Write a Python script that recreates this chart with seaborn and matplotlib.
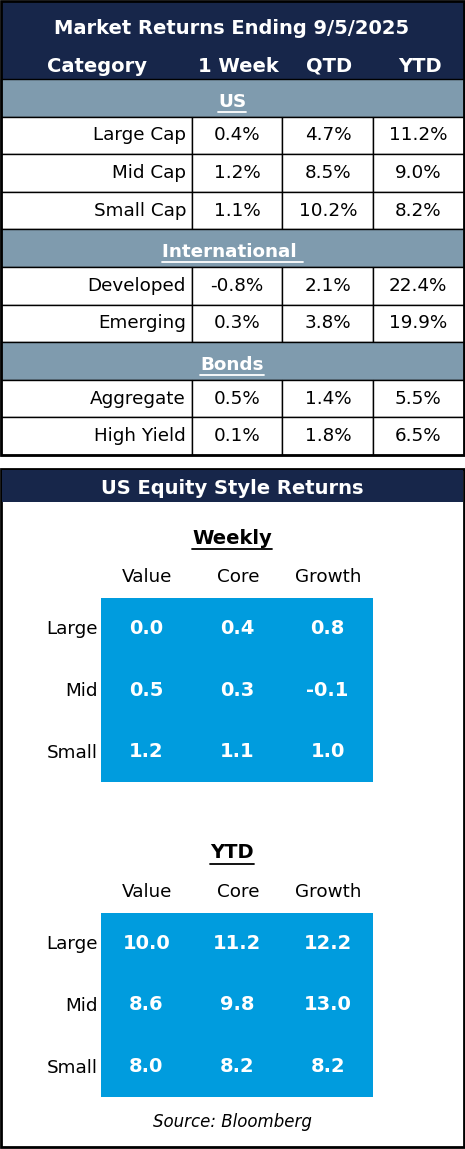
import matplotlib
matplotlib.use("Agg")
import matplotlib.pyplot as plt
from matplotlib.colors import ListedColormap
from matplotlib.patches import Rectangle
import seaborn as sns
import numpy as np

title = "Market Returns Ending 9/5/2025"
col_headers = ["Category", "1 Week", "QTD", "YTD"]
sections = ["US", "International ", "Bonds"]
section_rows = [["Large Cap", "Mid Cap", "Small Cap"], ["Developed", "Emerging"], ["Aggregate", "High Yield"]]
week_vals = [[0.4, 1.2, 1.1], [-0.8, 0.3], [0.5, 0.1]]
qtd_vals = [[4.7, 8.5, 10.2], [2.1, 3.8], [1.4, 1.8]]
ytd_vals = [[11.2, 9.0, 8.2], [22.4, 19.9], [5.5, 6.5]]

style_title = "US Equity Style Returns"
styles = ["Value", "Core", "Growth"]
sizes = ["Large", "Mid", "Small"]
weekly = [[0.0, 0.4, 0.8], [0.5, 0.3, -0.1], [1.2, 1.1, 1.0]]
ytd_style = [[10.0, 11.2, 12.2], [8.6, 9.8, 13.0], [8.0, 8.2, 8.2]]
source = "Source: Bloomberg"

NAVY = "#17264A"
GRAY = "#7F9BAE"
BLUE = "#009CDE"
W, H = 465, 1149
sns.set_theme(style="white")
plt.rcParams["font.family"] = ["DejaVu Sans"]

fig = plt.figure(figsize=(W / 100, H / 100), dpi=100)
ax = fig.add_axes([0, 0, 1, 1])
ax.set_xlim(0, W)
ax.set_ylim(H, 0)
ax.axis("off")
FS = 13.2
HFS = 14
renderer = fig.canvas.get_renderer()

def underline(t, yline, color):
    bb = t.get_window_extent(renderer=renderer)
    x0 = bb.x0 * W / fig.bbox.width
    x1 = bb.x1 * W / fig.bbox.width
    ax.plot([x0, x1], [yline, yline], color=color, lw=1.3)

# top table
ax.add_patch(Rectangle((1, 1), 463, 78, fc=NAVY, ec="none"))
ax.text(232, 28, title, color="white", fontsize=HFS, fontweight="bold", ha="center", va="center")
for x, t in zip([97, 238, 329, 420], col_headers):
    ax.text(x, 66, t, color="white", fontsize=HFS, fontweight="bold", ha="center", va="center")
y = 79
rh = 37.6
for s, rows, wv, qv, yv in zip(sections, section_rows, week_vals, qtd_vals, ytd_vals):
    ax.add_patch(Rectangle((1, y), 463, rh, fc=GRAY, ec="black", lw=1))
    t = ax.text(232, y + rh / 2 + 4, s, color="white", fontsize=FS, fontweight="bold", ha="center", va="center")
    underline(t, y + rh - 5, "white")
    y += rh
    for r, a, b, c in zip(rows, wv, qv, yv):
        for x0, x1 in [(1, 192), (192, 282), (282, 373), (373, 464)]:
            ax.add_patch(Rectangle((x0, y), x1 - x0, rh, fc="white", ec="black", lw=1))
        ax.text(186, y + rh / 2, r, fontsize=FS, ha="right", va="center", color="black")
        for x, v in zip([237, 328, 418], [a, b, c]):
            ax.text(x, y + rh / 2, f"{v:.1f}%", fontsize=FS, ha="center", va="center", color="black")
        y += rh
ax.add_patch(Rectangle((1, 1), 463, y - 1, fc="none", ec="black", lw=2))

# style box
ax.add_patch(Rectangle((1, 469), 463, 678, fc="white", ec="black", lw=2))
ax.add_patch(Rectangle((2, 470), 461, 32, fc=NAVY, ec="none"))
ax.text(232, 488, style_title, color="white", fontsize=HFS, fontweight="bold", ha="center", va="center")

def grid(label, data, ty, top):
    t = ax.text(232, ty, label, fontsize=HFS, fontweight="bold", ha="center", va="center", color="black")
    underline(t, ty + 11, "black")
    for x, s in zip([147, 238, 328], styles):
        ax.text(x, ty + 39, s, fontsize=FS, ha="center", va="center", color="black")
    for yy, s in zip([top + 31, top + 93, top + 155], sizes):
        ax.text(98, yy, s, fontsize=FS, ha="right", va="center", color="black")
    hax = fig.add_axes([101 / W, 1 - (top + 184) / H, 272 / W, 184 / H])
    sns.heatmap(np.array(data), ax=hax, cmap=ListedColormap([BLUE]), cbar=False, annot=True, fmt=".1f",
                annot_kws={"color": "white", "fontweight": "bold", "fontsize": HFS},
                xticklabels=False, yticklabels=False, linewidths=0)
    hax.axis("off")

grid("Weekly", weekly, 538, 598)
grid("YTD", ytd_style, 853, 913)
ax.text(232, 1122, source, fontsize=12, style="italic", ha="center", va="center", color="black")
fig.savefig("out.png", dpi=100)
